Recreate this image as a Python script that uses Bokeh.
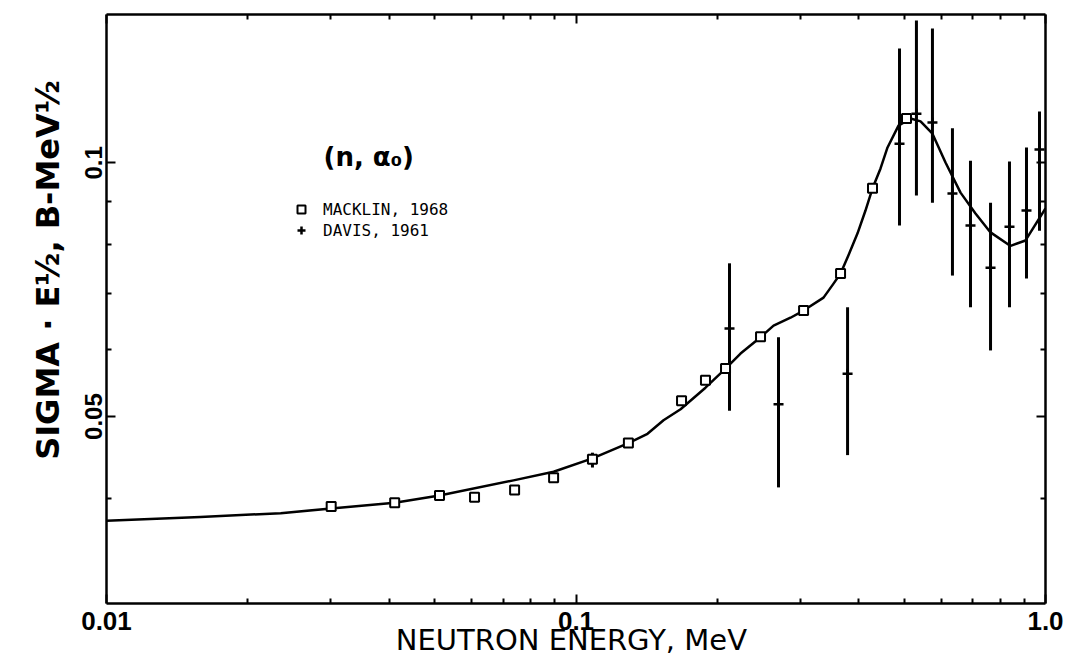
from bokeh.plotting import figure
from bokeh.models import (LogAxis, FixedTicker, CustomJSTickFormatter, Range1d,
                          Legend, LegendItem, Label)
from bokeh.embed import file_html
from bokeh.resources import INLINE

# ---- data ----
macklin_e = [0.0301, 0.0411, 0.0512, 0.0608, 0.0740, 0.0896, 0.1084, 0.1293,
             0.1678, 0.1887, 0.2082, 0.2472, 0.3053, 0.3660, 0.4281, 0.5058]
macklin_v = [0.0391, 0.0395, 0.0403, 0.0401, 0.0409, 0.0423, 0.0445, 0.0465,
             0.0522, 0.0552, 0.0570, 0.0622, 0.0668, 0.0739, 0.0933, 0.1129]

davis_e = [0.1084, 0.2123, 0.2700, 0.3788, 0.4887, 0.5310, 0.5744, 0.6336,
           0.6922, 0.7637, 0.8381, 0.911, 0.971]
davis_v = [0.0445, 0.0636, 0.0517, 0.0562, 0.1054, 0.1144, 0.1117, 0.0920,
           0.0843, 0.0751, 0.0840, 0.0878, 0.1037]
davis_lo = [0.0435, 0.0508, 0.0412, 0.0450, 0.0843, 0.0915, 0.0897, 0.0735,
            0.0674, 0.0599, 0.0674, 0.0729, 0.0831]
davis_hi = [0.0453, 0.0760, 0.0621, 0.0674, 0.1367, 0.1476, 0.1444, 0.1099,
            0.1006, 0.0897, 0.1004, 0.1043, 0.1151]

curve_e = [0.0100, 0.01585, 0.0235, 0.0301, 0.0411, 0.0512, 0.0736, 0.0896,
           0.1084, 0.1293, 0.1420, 0.1536, 0.1670, 0.1887, 0.2082, 0.2241,
           0.2472, 0.2635, 0.2863, 0.3053, 0.3367, 0.3536, 0.3660, 0.3805,
           0.3978, 0.4136, 0.4281, 0.4453, 0.4608, 0.4863, 0.5160, 0.5419,
           0.5744, 0.6124, 0.6592, 0.7094, 0.7637, 0.8425, 0.9066, 1.0]
curve_v = [0.0376, 0.0380, 0.0384, 0.0389, 0.0395, 0.0403, 0.0420, 0.0430,
           0.0446, 0.0465, 0.0477, 0.0495, 0.0510, 0.0541, 0.0570, 0.0594,
           0.0621, 0.0641, 0.0655, 0.0668, 0.0692, 0.0719, 0.0739, 0.0777,
           0.0825, 0.0878, 0.0933, 0.0985, 0.1043, 0.1107, 0.1129, 0.1120,
           0.1083, 0.1001, 0.0922, 0.0871, 0.0827, 0.0797, 0.0809, 0.0883]

x_major = [0.01, 0.1, 1.0]
x_minor = [0.02, 0.03, 0.04, 0.05, 0.06, 0.07, 0.08, 0.09,
           0.2, 0.3, 0.4, 0.5, 0.6, 0.7, 0.8, 0.9]
y_major = [0.05, 0.1]
y_minor = [0.04, 0.06, 0.07, 0.08, 0.09]

x_title = "NEUTRON  ENERGY, MeV"
y_title = "SIGMA · E½,  B-MeV½"
reaction = "(n, α₀)"
macklin_name = "MACKLIN, 1968"
davis_name = "DAVIS, 1961"

# ---- figure ----
p = figure(width=1074, height=664, x_axis_type="log", y_axis_type="log",
           x_range=Range1d(0.01, 1.0), y_range=Range1d(0.03, 0.15),
           output_backend="svg", toolbar_location=None,
           min_border_left=106, min_border_right=29, min_border_top=14,
           min_border_bottom=61)
p.xgrid.visible = False
p.ygrid.visible = False
p.outline_line_color = None
p.background_fill_color = "white"
p.border_fill_color = "white"

fmt_x = CustomJSTickFormatter(code="return tick >= 0.999 ? tick.toFixed(1) : String(Number(tick.toPrecision(2)));")
fmt_y = CustomJSTickFormatter(code="return String(Number(tick.toPrecision(2)));")
fmt_none = CustomJSTickFormatter(code="return '';")


def style_axis(ax):
    ax.axis_line_width = 2.5
    ax.axis_line_color = "black"
    ax.major_tick_in = 9
    ax.major_tick_out = 0
    ax.minor_tick_in = 5
    ax.minor_tick_out = 0
    ax.major_tick_line_width = 2
    ax.minor_tick_line_width = 2
    ax.major_tick_line_color = "black"
    ax.minor_tick_line_color = "black"


xax = p.xaxis[0]
xax.ticker = FixedTicker(ticks=x_major, minor_ticks=x_minor)
xax.formatter = fmt_x
style_axis(xax)
xax.major_label_text_font = "Liberation Sans"
xax.major_label_text_font_style = "bold"
xax.major_label_text_font_size = "26px"
xax.major_label_text_color = "black"
xax.major_label_standoff = 8
xax.axis_label = x_title
xax.axis_label_text_font = "DejaVu Sans"
xax.axis_label_text_font_style = "normal"
xax.axis_label_text_font_size = "29px"
xax.axis_label_text_color = "black"
xax.axis_label_standoff = -10

yax = p.yaxis[0]
yax.ticker = FixedTicker(ticks=y_major, minor_ticks=y_minor)
yax.formatter = fmt_y
style_axis(yax)
yax.major_label_orientation = "vertical"
yax.major_label_text_font = "Liberation Sans"
yax.major_label_text_font_style = "bold"
yax.major_label_text_font_size = "24px"
yax.major_label_text_color = "black"
yax.major_label_standoff = 4
# leading no-break spaces shift the centred title upward, as in the original
yax.axis_label = "\u00a0" * 8 + y_title
yax.axis_label_text_font = "DejaVu Sans"
yax.axis_label_text_font_style = "bold"
yax.axis_label_text_font_size = "32px"
yax.axis_label_text_color = "black"
yax.axis_label_standoff = 16

top = LogAxis(ticker=FixedTicker(ticks=x_major, minor_ticks=x_minor), formatter=fmt_none,
              major_label_standoff=0)
style_axis(top)
p.add_layout(top, "above")
right = LogAxis(ticker=FixedTicker(ticks=y_major, minor_ticks=y_minor), formatter=fmt_none,
                major_label_standoff=0)
style_axis(right)
p.add_layout(right, "right")

# ---- data marks ----
p.line(curve_e, curve_v, line_color="black", line_width=2.5, line_join="round")
p.segment(x0=davis_e, y0=davis_lo, x1=davis_e, y1=davis_hi,
          line_color="black", line_width=3)
dv = p.scatter(davis_e, davis_v, marker="cross", size=10, line_color="black",
               line_width=2.5)
mk = p.scatter(macklin_e, macklin_v, marker="square", size=9, line_color="black",
               line_width=2, fill_color="white")

legend = Legend(items=[LegendItem(label=macklin_name, renderers=[mk]),
                       LegendItem(label=davis_name, renderers=[dv])],
                location=(185, 363), padding=0, spacing=1, margin=0,
                glyph_width=20, glyph_height=20, label_standoff=12,
                label_height=20,
                label_text_font="DejaVu Sans Mono", label_text_font_size="16px",
                label_text_color="black",
                background_fill_alpha=0, border_line_color=None)
p.add_layout(legend)

# reaction label (offsets in px from the frame's bottom-left corner)
p.add_layout(Label(x=217, y=447, x_units="screen", y_units="screen", text=reaction,
                   text_font="DejaVu Sans", text_font_size="26px",
                   text_font_style="bold", text_baseline="middle",
                   text_color="black"))

open("out.html", "w").write(file_html(p, INLINE))
